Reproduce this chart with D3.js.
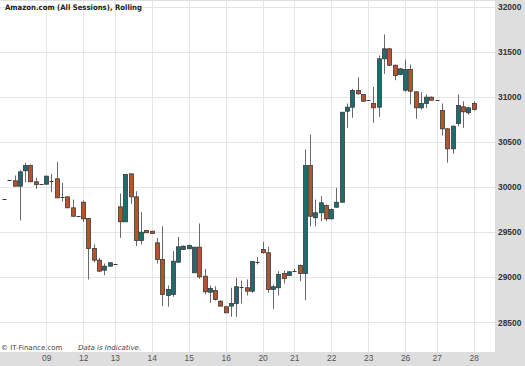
<!DOCTYPE html>
<html><head><meta charset="utf-8">
<script src="https://cdn.jsdelivr.net/npm/d3@7"></script>
<style>html,body{margin:0;padding:0;background:#dedede;}svg{display:block;}</style>
</head><body>
<svg id="chart" width="525" height="366"></svg>
<script>
const title = "Amazon.com (All Sessions), Rolling";
const openV = [29865,30083,30069,30009,30180,30238,30058,30031,30031,30069,30091,29891,29891,29769,29676,29831,29651,29318,29189,29078,29122,29144,29780,29614,30146,29891,29407,29518,29510,29381,29196,28797,28808,29166,29307,29315,29049,29333,29011,28834,28853,28734,28672,28679,28708,28889,28883,28845,29174,29307,29271,28864,28883,29041,29019,29067,29130,29041,30238,29659,29714,29795,29647,29776,29831,30840,30885,31070,31025,30959,30926,30885,31421,31532,31350,31247,31073,31303,31055,30878,30926,30996,30962,30848,30645,30423,30704,30889,30823,30926];
const highV = [29865,30083,30127,30186,30268,30249,30102,30031,30127,30146,30279,30047,29891,29861,29676,29850,29651,29363,29215,29152,29165,29144,29928,30139,30146,29953,29721,29518,29510,29437,29565,28908,29288,29448,29350,29362,29333,29595,29093,28908,28900,28745,28672,28883,28993,28963,28975,29174,29226,29392,29337,28919,29067,29074,29067,29093,29141,30416,30582,29861,29898,29806,29762,29991,30829,30926,31089,31217,31025,30959,31111,31458,31691,31543,31358,31321,31413,31358,31062,31051,31025,31003,30962,30926,30656,30682,31025,30951,30889,30951];
const lowV = [29860,30083,30009,29629,30053,30058,29980,30031,30028,29942,29880,29839,29769,29665,29676,29610,28975,29166,29055,29022,29120,29144,29437,29614,29814,29344,29363,29492,29485,29152,28679,28672,28783,29160,29307,29315,29049,28982,28808,28716,28742,28679,28605,28561,28561,28708,28797,28827,29141,29263,28827,28650,28797,28930,29011,29060,28956,28745,29565,29565,29621,29621,29640,29769,29831,30656,30767,31025,30945,30959,30712,30778,31255,31339,31184,31239,31055,30915,30756,30859,30878,30959,30962,30571,30268,30368,30674,30656,30804,30848];
const closeV = [29860,30083,30009,30168,30238,30058,30028,30031,30120,30069,29880,29891,29769,29676,29676,29647,29318,29189,29067,29122,29160,29144,29614,30139,29891,29407,29499,29492,29485,29196,28808,28864,29177,29337,29344,29351,29333,29004,28838,28875,28753,28679,28605,28708,28894,28889,28845,29174,29174,29271,28864,28894,29030,28986,29060,29067,29041,30238,29676,29714,29825,29647,29751,29831,30829,30885,31070,31033,30951,30959,30878,31421,31532,31350,31236,31310,31303,31062,30878,30926,30996,30962,30962,30645,30423,30674,30904,30834,30878,30859];
const dayLabels = ["09","12","13","14","15","16","20","21","22","23","26","27","28"];
const dayIndex = [8,15,21,28,35,42,49,55,62,69,76,82,89];
const yTicks = [28500,29000,29500,30000,30500,31000,31500,32000];

const svg = d3.select("#chart");
const plotR = 495, plotB = 352;
svg.append("rect").attr("x",0).attr("y",0).attr("width",525).attr("height",366).attr("fill","#dedede");
svg.append("rect").attr("x",0).attr("y",1).attr("width",plotR).attr("height",plotB-1).attr("fill","#ffffff");

const x = d3.scaleLinear().domain([0, openV.length-1]).range([4, 473.7]);
const y = d3.scaleLinear().domain([28500, 32000]).range([322.3, 6.6]);

const grid = svg.append("g").attr("stroke","#e6e6e6").attr("stroke-width",1);
yTicks.forEach(t => {
  const yy = Math.round(y(t)) + 0.5;
  grid.append("line").attr("x1",0).attr("x2",plotR).attr("y1",yy).attr("y2",yy);
});
dayIndex.forEach(i => {
  const xx = Math.round(x(i)) + 0.5;
  grid.append("line").attr("x1",xx).attr("x2",xx).attr("y1",1).attr("y2",plotB);
});

// Y axis labels
const yAxis = d3.axisRight(y).tickValues(yTicks).tickSize(0).tickPadding(3).tickFormat(d3.format("d"));
const ya = svg.append("g").attr("transform",`translate(${plotR},0)`).call(yAxis);
ya.select(".domain").remove();
ya.selectAll("text").attr("font-family","Liberation Sans, Arial, sans-serif").attr("font-size","8.4px").attr("font-weight","bold").attr("fill","#333");

// X axis labels
const xAxis = d3.axisBottom(x).tickValues(dayIndex).tickSize(0).tickPadding(3).tickFormat((d,i)=>dayLabels[i]);
const xa = svg.append("g").attr("transform",`translate(0,${plotB})`).call(xAxis);
xa.select(".domain").remove();
xa.selectAll("text").attr("font-family","Liberation Sans, Arial, sans-serif").attr("font-size","8.4px").attr("fill","#555");

// Candles
const data = openV.map((o,i)=>({i, o, h:highV[i], l:lowV[i], c:closeV[i]}));
const g = svg.append("g");
data.forEach(d => {
  const cx = Math.round(x(d.i));
  g.append("line").attr("x1",cx+0.5).attr("x2",cx+0.5)
    .attr("y1",y(d.h)).attr("y2",y(d.l)).attr("stroke","#6a6a6a").attr("stroke-width",1);
  const top = y(Math.max(d.o,d.c)), bot = y(Math.min(d.o,d.c));
  if (bot - top < 1.2) {
    g.append("line").attr("x1",cx-1.5).attr("x2",cx+2.5)
      .attr("y1",Math.round((top+bot)/2)+0.5).attr("y2",Math.round((top+bot)/2)+0.5)
      .attr("stroke","#3a3a3a").attr("stroke-width",1);
  } else {
    g.append("rect").attr("x",cx-1.5).attr("y",top).attr("width",4).attr("height",bot-top)
      .attr("fill", d.c >= d.o ? "#1d6c70" : "#b4532c")
      .attr("stroke","#3a3a3a").attr("stroke-width",0.8);
  }
});

// Title
svg.append("text").attr("x",5).attr("y",10).text(title)
  .attr("font-family","DejaVu Sans, Verdana, sans-serif").attr("font-size","7.6px").attr("font-weight","bold")
  .attr("fill","#222").attr("textLength",137).attr("lengthAdjust","spacingAndGlyphs");

// Footer
svg.append("text").attr("x",1).attr("y",349.5).text("© IT-Finance.com")
  .attr("font-family","DejaVu Sans, Verdana, sans-serif").attr("font-size","7px").attr("fill","#444");
svg.append("text").attr("x",78).attr("y",349.5).text("Data is Indicative.")
  .attr("font-family","DejaVu Sans, Verdana, sans-serif").attr("font-size","7px").attr("font-style","italic").attr("fill","#444");
</script>
</body></html>
